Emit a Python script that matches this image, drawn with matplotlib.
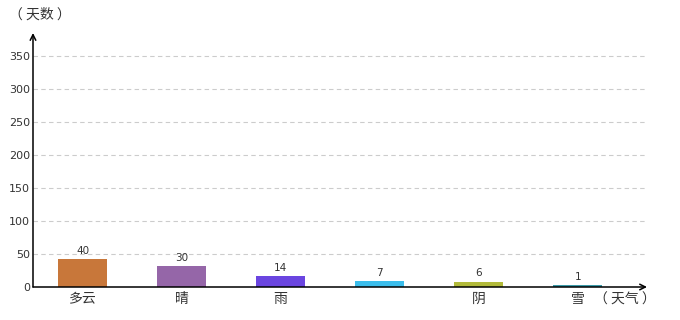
import matplotlib.pyplot as plt

plt.rcParams['font.family'] = ['Noto Sans CJK SC', 'DejaVu Sans']

categories = ['多云', '晴', '雨', '', '阴', '雪']
days = [40, 30, 14, 7, 6, 1]
colors = ['#C8773A', '#9566A8', '#6A45E0', '#3BBDEB', '#B2BA3A', '#3A9AA8']
yticks = [0, 50, 100, 150, 200, 250, 300, 350]

fig = plt.figure(figsize=(6.8, 3.2), dpi=100)
ax = fig.add_axes([33 / 680, 33 / 320, 614 / 680, 254 / 320])

x = list(range(len(categories)))
# bars drawn a touch taller than the value, like the original
ax.bar(x, [d + 2 for d in days], width=0.5, color=colors, zorder=3)
for xi, v in zip(x, days):
    ax.text(xi, v + 7, str(v), ha='center', va='bottom', fontsize=7.5,
            color='#333333', family='DejaVu Sans', zorder=4)

ax.set_xlim(-0.5, 5.70)
ax.set_ylim(0, 385)

for t in yticks[1:]:
    ax.plot([-0.5, 5.68], [t, t], ls=(0, (4, 3)), color='#cccccc', lw=0.8, zorder=1)

ax.set_yticks(yticks)
ax.set_yticklabels([str(t) for t in yticks], fontsize=8, color='#333333', family='DejaVu Sans')
ax.set_xticks(x)
ax.set_xticklabels(categories, fontsize=10, color='#333333')
ax.tick_params(axis='y', length=0, pad=2)
ax.tick_params(axis='x', length=0, pad=3.5)

for s in ax.spines.values():
    s.set_visible(False)

# axis lines with arrows
ax.annotate('', xy=(0, 1.0), xytext=(0, 0), xycoords='axes fraction',
            arrowprops=dict(arrowstyle='->', color='black', lw=1.1,
                            shrinkA=0, shrinkB=0, mutation_scale=10))
ax.annotate('', xy=(1.0, 0), xytext=(0, 0), xycoords='axes fraction',
            arrowprops=dict(arrowstyle='->', color='black', lw=1.1,
                            shrinkA=0, shrinkB=0, mutation_scale=10))

fig.text(40 / 680, 1 - 15 / 320, '（ 天数 ）', ha='center', va='center', fontsize=10, color='#333333')
fig.text(625 / 680, 1 - 300 / 320, '（ 天气 ）', ha='center', va='center', fontsize=10, color='#333333')

fig.savefig('out.png', dpi=100)
